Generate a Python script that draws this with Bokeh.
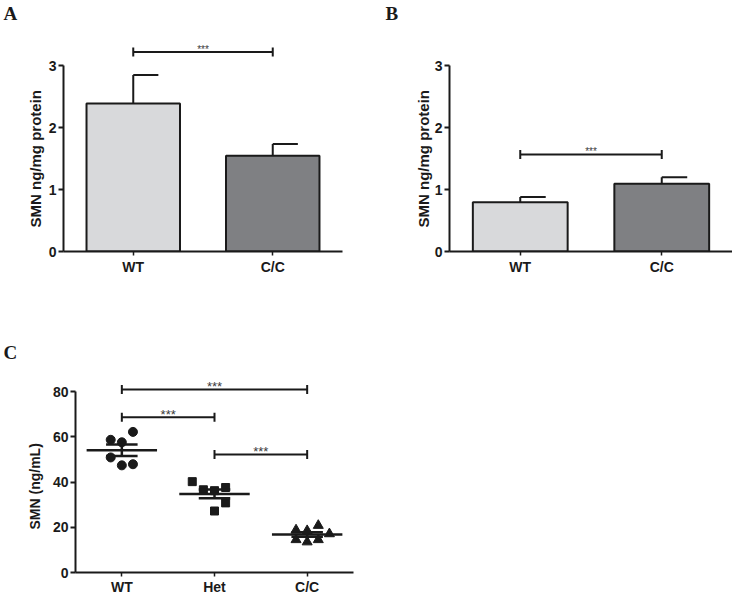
from bokeh.plotting import figure
from bokeh.models import FactorRange, Range1d, FixedTicker, Title
from bokeh.layouts import column, row
from bokeh.embed import file_html
from bokeh.resources import INLINE
from bokeh.core.properties import value
import numpy as np

# ---------------- data ----------------
ab_groups = ["WT", "C/C"]
a_means = [2.39, 1.545]
a_sem = [0.46, 0.19]
b_means = [0.795, 1.095]
b_sem = [0.085, 0.105]
ab_ticks = [0, 1, 2, 3]
a_sig_level = 3.22
b_sig_level = 1.565
sig_text = "***"

c_groups = ["WT", "Het", "C/C"]
c_wt = [58.7, 62.2, 57.6, 50.9, 47.4, 47.9]
c_het = [40.2, 36.6, 36.2, 37.6, 30.8, 27.2]
c_cc = [18.8, 18.5, 20.8, 17.1, 14.5, 13.5, 14.5]
c_ticks = [0, 20, 40, 60, 80]
c_pairs = [("WT", "C/C", 81.0), ("WT", "Het", 68.7), ("Het", "C/C", 52.2)]

# scatter column slots (layout of points within a group)
wt_slot = [-1, 1, 0, -1, 0, 1]
het_slot = [-2, -1, 0, 1, 1, 0]
cc_slot = [-1, 0, 1, 2, -1, 0, 1]

# ---------------- style ----------------
INK = "#1a1a1a"
STAR = "#3a3a3a"
BAR_COLORS = ["#d8d9db", "#7f8083"]
SANS = "Liberation Sans"
SERIF = "Liberation Serif"


def style_axes(p, ticks, ylabel, label_size, label_offset, label_standoff):
    p.outline_line_color = None
    p.xgrid.visible = False
    p.ygrid.visible = False
    p.background_fill_color = "white"
    p.border_fill_color = "white"
    for ax in (p.xaxis[0], p.yaxis[0]):
        ax.axis_line_width = 2
        ax.axis_line_color = INK
        ax.major_tick_line_width = 2
        ax.major_tick_line_color = INK
        ax.major_tick_out = 5
        ax.major_tick_in = 0
        ax.minor_tick_line_color = None
        ax.major_label_text_font = SANS
        ax.major_label_text_font_style = "bold"
        ax.major_label_text_font_size = "14px"
        ax.major_label_text_color = INK
        ax.major_label_standoff = 3
    p.xaxis[0].major_tick_out = 4
    p.xaxis[0].major_tick_line_width = 1.5
    p.yaxis.ticker = FixedTicker(ticks=ticks)
    p.yaxis.bounds = (ticks[0], ticks[-1])
    p.yaxis.major_label_standoff = 2
    # y-axis title, centred on the axis span (not on the whole frame)
    p.add_layout(Title(text=ylabel, align="left", offset=label_offset,
                       standoff=label_standoff, text_font=SANS,
                       text_font_style="bold", text_font_size=label_size,
                       text_color=INK), "left")


def panel_letter(p, text, offset):
    p.title.text = text
    p.title.align = "left"
    p.title.offset = offset
    p.title.standoff = 0
    p.title.text_font = SERIF
    p.title.text_font_style = "bold"
    p.title.text_font_size = "19px"
    p.title.text_color = INK


def bracket(p, x0, x1, y, h, star_size, star_offset):
    p.segment(x0=[x0], y0=[y], x1=[x1], y1=[y], line_color=INK, line_width=2)
    p.segment(x0=[x0, x1], y0=[y - h, y - h], x1=[x0, x1], y1=[y + h, y + h],
              line_color=INK, line_width=2)
    p.text(x=[(x0 + x1) / 2], y=[y], text=[sig_text], text_font=value(SANS),
           text_font_size=star_size, text_color=STAR, text_align="center",
           text_baseline="alphabetic", y_offset=star_offset)


def bar_panel(means, sems, sig_level, width, left, right, letter, loff, lab_standoff):
    p = figure(width=width, height=290, x_range=FactorRange(*ab_groups),
               y_range=Range1d(0, 3.68), output_backend="svg", toolbar_location=None,
               min_border_left=left, min_border_right=right, min_border_top=23,
               min_border_bottom=39)
    style_axes(p, ab_ticks, "SMN ng/mg protein", "15px", 24, lab_standoff)
    p.vbar(x=ab_groups, top=means, width=0.67, fill_color=BAR_COLORS,
           line_color=INK, line_width=2)
    cx = [i + 0.5 for i in range(len(ab_groups))]
    tops = [m + s for m, s in zip(means, sems)]
    p.segment(x0=cx, y0=means, x1=cx, y1=tops, line_color=INK, line_width=2)
    p.segment(x0=cx, y0=tops, x1=[c + 0.18 for c in cx], y1=tops,
              line_color=INK, line_width=2)
    bracket(p, cx[0], cx[1], sig_level, 0.072, "10px", -3)
    panel_letter(p, letter, loff)
    return p


pA = bar_panel(a_means, a_sem, a_sig_level, 370, 63, 28, "A", -60, 4)
pB = bar_panel(b_means, b_sem, b_sig_level, 362, 79, 0, "B", -64, 0)

# ---------------- panel C ----------------
pC = figure(width=362, height=307, x_range=FactorRange(*c_groups),
            y_range=Range1d(0, 92.9), output_backend="svg", toolbar_location=None,
            min_border_left=75, min_border_right=9, min_border_top=72,
            min_border_bottom=21)
style_axes(pC, c_ticks, "SMN (ng/mL)", "14px", 43, 14)
pC.xaxis.major_label_standoff = 2
panel_letter(pC, "C", -72)

SLOT = 0.12
c_sets = [c_wt, c_het, c_cc]
c_slots = [wt_slot, het_slot, cc_slot]
markers = ["circle", "square", "triangle"]
sizes = [9, 8, 10]
for i, (vals, slots, mk, sz) in enumerate(zip(c_sets, c_slots, markers, sizes)):
    xs = [i + 0.5 + s * SLOT for s in slots]
    pC.scatter(xs, vals, marker=mk, size=sz, fill_color=INK, line_color=INK)

for i, vals in enumerate(c_sets):
    arr = np.array(vals)
    m = arr.mean()
    se = arr.std(ddof=1) / np.sqrt(len(arr))
    c = i + 0.5
    pC.segment(x0=[c - 0.38], y0=[m], x1=[c + 0.38], y1=[m], line_color=INK, line_width=2.5)
    pC.segment(x0=[c], y0=[m - se], x1=[c], y1=[m + se], line_color=INK, line_width=2.5)
    pC.segment(x0=[c - 0.17, c - 0.17], y0=[m - se, m + se], x1=[c + 0.17, c + 0.17],
               y1=[m - se, m + se], line_color=INK, line_width=2.5)

for g0, g1, lvl in c_pairs:
    x0 = c_groups.index(g0) + 0.5
    x1 = c_groups.index(g1) + 0.5
    bracket(pC, x0, x1, lvl, 2.0, "13px", -3)

layout = column(row(pA, pB), pC)
open("out.html", "w").write(file_html(layout, INLINE))
